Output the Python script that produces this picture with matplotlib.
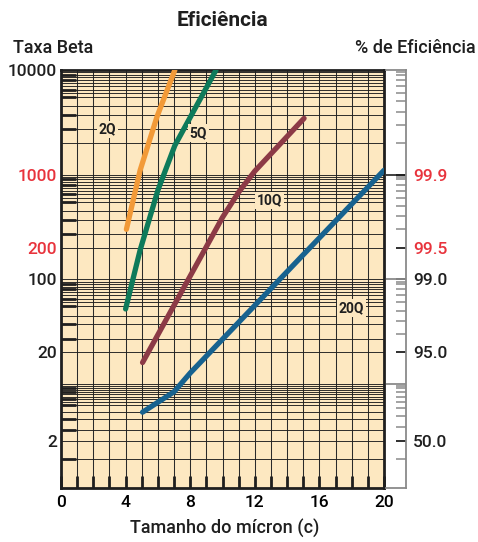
import numpy as np
import matplotlib
matplotlib.use("Agg")
import matplotlib.pyplot as plt
from matplotlib.ticker import FixedLocator, MultipleLocator, NullFormatter

plt.rcParams['font.family'] = ['Roboto', 'DejaVu Sans']
plt.rcParams['font.weight'] = 'medium'

# beta ratio against particle size (micron) for each filter grade
x_2q = [4.05, 4.9, 5.95, 7.05]
beta_2q = [300, 1100, 3600, 10000]
x_5q = [4.0, 4.9, 6.0, 7.05, 9.6]
beta_5q = [52, 190, 710, 1900, 10000]
x_10q = [5.05, 10.0, 11.0, 12.0, 15.05]
beta_10q = [16, 390, 680, 1080, 3450]
x_20q = [5.05, 7.0, 8.0, 20.0]
beta_20q = [4.5, 8.0, 12.7, 1100]

grade_names = ["2Q", "5Q", "10Q", "20Q"]
label_x = [2.85, 8.5, 12.9, 18.0]
label_beta = [2700, 2500, 570, 53]

beta_ticks = [2, 20, 100, 200, 1000, 10000]
red_ticks = [200, 1000]
eff_ticks = [2, 20, 100, 200, 1000]
x_ticks = [0, 4, 8, 12, 16, 20]

# log paper rulings inside each decade
grid_steps = [0.95, 0.9, 0.85, 0.8, 0.75, 0.7, 0.65, 0.6, 0.55, 0.45, 0.37, 0.27, 0.2]
thick_steps = [0.9, 0.8, 0.65, 0.55, 0.37, 0.27]
decades = [10, 100, 1000, 10000]
grid_vals = [d * s for d in decades for s in grid_steps] + decades + [1.2]
thick_vals = [d * s for d in decades for s in thick_steps] + [1.2, 100, 1000]
tick_steps = [0.95, 0.9, 0.8, 0.7, 0.6, 0.5, 0.4, 0.3, 0.2]
right_vals = [d * s for d in decades for s in tick_steps] + [1.2]

colors = ["#F29A38", "#0E7A5A", "#8C3A46", "#17628F"]
bg = "#FDE8C1"
red = "#E8333C"
gray = "#8A8A8A"
ink = "#1f1f1f"

# log axis, squeezed below 10
K = 0.78


def fwd(v):
    l = np.log10(np.clip(v, 1e-6, None))
    return np.where(l >= 1, l, 1 - (1 - l) * K)


def inv(f):
    f = np.asarray(f, dtype=float)
    return np.where(f >= 1, 10.0 ** f, 10.0 ** (1 - (1 - f) / K))


ymin, ymax = 0.53, 10000

fig = plt.figure(figsize=(4.78, 5.42), dpi=100)
left, bottom = 61 / 478, 1 - 488 / 542
width, height = 323 / 478, 418 / 542
ax = fig.add_axes([left, bottom, width, height])
ax.set_facecolor(bg)
ax.set_yscale('function', functions=(fwd, inv))
ax.set_ylim(ymin, ymax)
ax.set_xlim(0, 20)

# rulings
ax.hlines(grid_vals, 0, 20, color=ink, lw=0.65, zorder=1)
ax.xaxis.set_minor_locator(MultipleLocator(1))
ax.grid(which='both', axis='x', color="#2a2a2a", lw=0.75, zorder=1)
ax.set_axisbelow(True)

for xs, ys, c in zip([x_2q, x_5q, x_10q, x_20q],
                     [beta_2q, beta_5q, beta_10q, beta_20q], colors):
    ax.plot(xs, ys, color=c, lw=3.8, solid_capstyle='round',
            solid_joinstyle='round', zorder=3)

for name, lx, ly in zip(grade_names, label_x, label_beta):
    ax.text(lx, ly, name, ha='center', va='center', fontsize=10,
            fontweight='bold', color=ink, zorder=4,
            bbox=dict(boxstyle='square,pad=0.12', fc=bg, ec='none'))

for s in ax.spines.values():
    s.set_linewidth(2)
    s.set_color(ink)

ax.set_xticks(x_ticks)
ax.set_xticklabels([str(t) for t in x_ticks])
ax.tick_params(axis='x', which='both', direction='in', length=9, width=2,
               color=ink, labelsize=12.5, pad=5)

ax.yaxis.set_major_locator(FixedLocator(beta_ticks))
ax.set_yticklabels([str(t) for t in beta_ticks])
ax.yaxis.set_minor_locator(FixedLocator(thick_vals))
ax.yaxis.set_minor_formatter(NullFormatter())
ax.tick_params(axis='y', which='major', length=0, labelsize=12.5, pad=3)
ax.tick_params(axis='y', which='minor', direction='in', length=11, width=2,
               color=ink)
for t, lab in zip(beta_ticks, ax.get_yticklabels()):
    lab.set_color(red if t in red_ticks else ink)

# efficiency scale on the right
rax = fig.add_axes([386 / 478, bottom, 20 / 478, height])
rax.set_yscale('function', functions=(fwd, inv))
rax.set_ylim(ymin, ymax)
rax.set_xlim(0, 1)
rax.set_xticks([])
rax.spines['left'].set_visible(False)
for side in ['right', 'top', 'bottom']:
    rax.spines[side].set_color(gray)
    rax.spines[side].set_linewidth(1.3)
rax.yaxis.tick_right()
rax.yaxis.set_major_locator(FixedLocator(eff_ticks))
rax.set_yticklabels(["%.1f" % (100 * (1 - 1 / b)) for b in eff_ticks])
rax.yaxis.set_minor_locator(FixedLocator(right_vals))
rax.yaxis.set_minor_formatter(NullFormatter())
rax.tick_params(axis='y', which='major', direction='in', length=7.5, width=1.3,
                color=ink, labelsize=12.5, pad=5)
rax.tick_params(axis='y', which='minor', direction='in', length=7.5, width=1.1,
                color=gray)
for b, lab in zip(eff_ticks, rax.get_yticklabels()):
    lab.set_color(red if b in red_ticks else ink)
rax.axhline(1000, color=ink, lw=1.2)
rax.axhline(100, color=gray, lw=1.3)
rax.axhline(10, color=gray, lw=1.3)

fig.text(222 / 478, 1 - 20 / 542, "Eficiência", ha='center', va='center',
         fontsize=15, fontweight='bold', color=ink)
fig.text(13 / 478, 1 - 48 / 542, "Taxa Beta", ha='left', va='center',
         fontsize=13, color=ink)
fig.text(476 / 478, 1 - 48 / 542, "% de Eficiência", ha='right', va='center',
         fontsize=13, color=ink)
fig.text(225 / 478, 1 - 528 / 542, "Tamanho do mícron (c)", ha='center',
         va='center', fontsize=13, color=ink)

fig.savefig("out.png", dpi=100)
